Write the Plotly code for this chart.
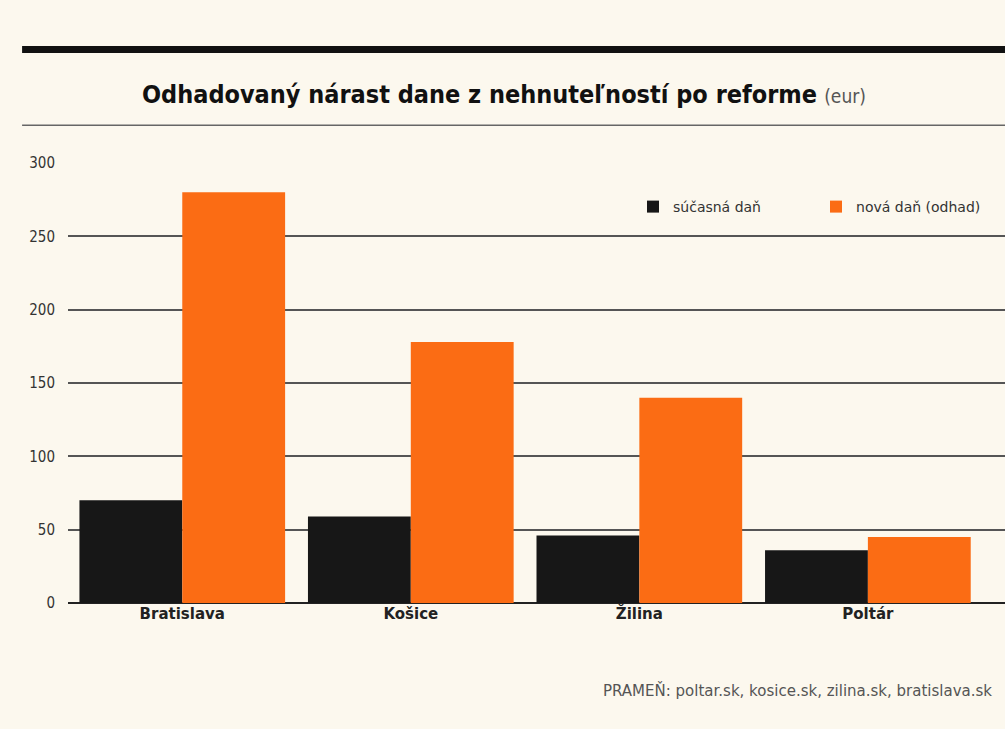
import plotly.graph_objects as go

cities = ["Bratislava", "Košice", "Žilina", "Poltár"]
current_tax = [70, 59, 46, 36]
new_tax = [280, 178, 140, 45]
series_names = ["súčasná daň", "nová daň (odhad)"]
y_ticks = [0, 50, 100, 150, 200, 250, 300]

BG = "#fcf8ee"
COND = "DejaVu Sans Condensed, DejaVu Sans, sans-serif"

fig = go.Figure()
fig.add_trace(go.Bar(x=cities, y=current_tax, name=series_names[0],
                     marker=dict(color="#171717", line=dict(width=0))))
fig.add_trace(go.Bar(x=cities, y=new_tax, name=series_names[1],
                     marker=dict(color="#fb6c14", line=dict(width=0))))

fig.update_layout(
    width=1005, height=729,
    paper_bgcolor=BG, plot_bgcolor=BG,
    margin=dict(l=68, r=0, t=163, b=126),
    barmode="group", bargap=0.1, bargroupgap=0,
    showlegend=True,
    legend=dict(orientation="h", x=0.603, y=0.9, xanchor="left", yanchor="middle",
                bgcolor="rgba(0,0,0,0)", entrywidth=138, entrywidthmode="pixels",
                font=dict(family="DejaVu Sans", size=14, color="#333")),
    xaxis=dict(range=[-0.5, 3.6], showgrid=False, showline=False, ticks="",
               tickfont=dict(family="DejaVu Sans", size=15, color="#222"),
               tickprefix="<b>", ticksuffix="</b>"),
    yaxis=dict(range=[0, 300], tickvals=y_ticks, showgrid=True,
               gridcolor="#555555", gridwidth=1.5,
               zeroline=True, zerolinecolor="#222222", zerolinewidth=2.2,
               showline=False, ticks="", ticklabelstandoff=12,
               tickfont=dict(family=COND, size=15, color="#333")),
    font=dict(family=COND),
)

# Top thick rule and thin rule under title
fig.add_shape(type="line", xref="paper", yref="paper", x0=-0.049, x1=1.0,
              y0=1.258, y1=1.258, line=dict(color="#111", width=7))
fig.add_shape(type="line", xref="paper", yref="paper", x0=-0.049, x1=1.0,
              y0=1.086, y1=1.086, line=dict(color="#666", width=1.5))

fig.add_annotation(xref="paper", yref="paper", x=0.077, y=1.155, xanchor="left", yanchor="middle",
                   text="<b>Odhadovaný nárast dane z nehnuteľností po reforme</b> <span style='font-size:19px;color:#555'>(eur)</span>",
                   showarrow=False, font=dict(family=COND, size=25, color="#111"))

fig.add_annotation(xref="paper", yref="paper", x=0.988, y=-0.198, xanchor="right", yanchor="middle",
                   text="PRAMEŇ: poltar.sk, kosice.sk, zilina.sk, bratislava.sk",
                   showarrow=False, font=dict(family="DejaVu Sans", size=15, color="#555"))

fig.write_html("out.html", config={"displayModeBar": False},
               post_script="document.body.style.margin='0';")
